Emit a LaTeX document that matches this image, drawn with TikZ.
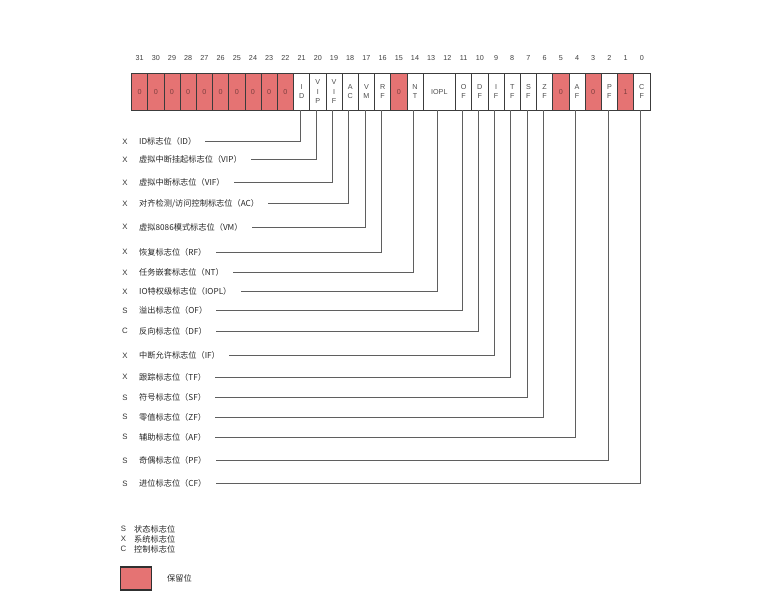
\documentclass[tikz,border=0pt]{standalone}
\usepackage{fontspec}
\setmainfont{Liberation Sans}
\newfontfamily\cjk{Noto Sans CJK SC}
\usetikzlibrary{positioning}

\definecolor{rsvd}{RGB}{229,115,115}
\definecolor{edge}{RGB}{60,60,60}
\definecolor{wirecol}{RGB}{95,95,95}

\tikzset{
  bitcell/.style={draw=edge, line width=0.8pt, minimum height=36.7pt, inner sep=0pt,
    align=center, font=\fontsize{7.2}{9.5}\selectfont, text=black!70},
  rsvdcell/.style={bitcell, fill=rsvd, text=black!45!rsvd},
  bitnum/.style={font=\fontsize{7.2}{8}\selectfont, text=black!75},
  kind/.style={font=\fontsize{7.8}{9}\selectfont, text=black!80},
  flaglbl/.style={anchor=west, inner sep=0pt, font=\cjk\fontsize{8.2}{9}\selectfont, text=black!85},
  wire/.style={draw=wirecol, line width=0.8pt},
}

\begin{document}
\begin{tikzpicture}[x=1pt, y=-1pt]
		\useasboundingbox (0,0) rectangle (769,601);

		% Bit numbers
		\foreach \b in {0,...,31}
			\node[bitnum] (n\b) at ({131.5+(31-\b+0.5)*16.2}, 58) {\b};

		% Register cells
		\foreach \b/\w/\txt/\nm/\sty in {
				31/1/0/r31/rsvdcell, 30/1/0/r30/rsvdcell, 29/1/0/r29/rsvdcell, 28/1/0/r28/rsvdcell,
				27/1/0/r27/rsvdcell, 26/1/0/r26/rsvdcell, 25/1/0/r25/rsvdcell, 24/1/0/r24/rsvdcell,
				23/1/0/r23/rsvdcell, 22/1/0/r22/rsvdcell,
				21/1/I\\D/ID/bitcell, 20/1/V\\I\\P/VIP/bitcell, 19/1/V\\I\\F/VIF/bitcell,
				18/1/A\\C/AC/bitcell, 17/1/V\\M/VM/bitcell, 16/1/R\\F/RF/bitcell,
				15/1/0/r15/rsvdcell, 14/1/N\\T/NT/bitcell, 13/2/IOPL/IOPL/bitcell,
				11/1/O\\F/OF/bitcell, 10/1/D\\F/DF/bitcell, 9/1/I\\F/IF/bitcell,
				8/1/T\\F/TF/bitcell, 7/1/S\\F/SF/bitcell, 6/1/Z\\F/ZF/bitcell,
				5/1/0/r5/rsvdcell, 4/1/A\\F/AF/bitcell, 3/1/0/r3/rsvdcell,
				2/1/P\\F/PF/bitcell, 1/1/1/r1/rsvdcell, 0/1/C\\F/CF/bitcell} {
				\node[\sty, minimum width=\w*16.2pt] (c\nm) at ({131.5+(31-\b+\w/2)*16.2}, 91.7) {\txt};
			}

		% Flag labels and leader lines
		\foreach \nm/\k/\txt/\y in {
				ID/X/ID标志位（ID）/141.5,
				VIP/X/虚拟中断挂起标志位（VIP）/159.5,
				VIF/X/虚拟中断标志位（VIF）/182.7,
				AC/X/{对齐检测/访问控制标志位（AC）}/203.7,
				VM/X/虚拟8086模式标志位（VM）/227.3,
				RF/X/恢复标志位（RF）/252,
				NT/X/任务嵌套标志位（NT）/272.5,
				IOPL/X/IO特权级标志位（IOPL）/291.5,
				OF/S/溢出标志位（OF）/310.5,
				DF/C/反向标志位（DF）/331,
				IF/X/中断允许标志位（IF）/355.5,
				TF/X/跟踪标志位（TF）/377.3,
				SF/S/符号标志位（SF）/397.8,
				ZF/S/零值标志位（ZF）/417,
				AF/S/辅助标志位（AF）/437,
				PF/S/奇偶标志位（PF）/460.5,
				CF/S/进位标志位（CF）/483.5} {
				\node[kind] (k\nm) at (125,\y) {\k};
				\node[flaglbl] (l\nm) at (139,\y) {\txt};
				\draw[wire] ([xshift=-1.5pt]c\nm.south) |- ([xshift=9pt]l\nm.east);
			}

		% Legend
		\node[kind] (legS) at (123.5,529) {S};
		\node[kind] (legX) at (123.5,539) {X};
		\node[kind] (legC) at (123.5,549) {C};
		\node[flaglbl] (legStxt) at (134,529) {状态标志位};
		\node[flaglbl] (legXtxt) at (134,539) {系统标志位};
		\node[flaglbl] (legCtxt) at (134,549) {控制标志位};

		\node[draw=edge!80!black, line width=1.2pt, fill=rsvd, minimum width=31pt, minimum height=23pt, inner sep=0pt] (legBox) at (135.8,578.5) {};
		\node[flaglbl, right=15pt of legBox] (legBoxtxt) {保留位};
	\end{tikzpicture}
\end{document}
